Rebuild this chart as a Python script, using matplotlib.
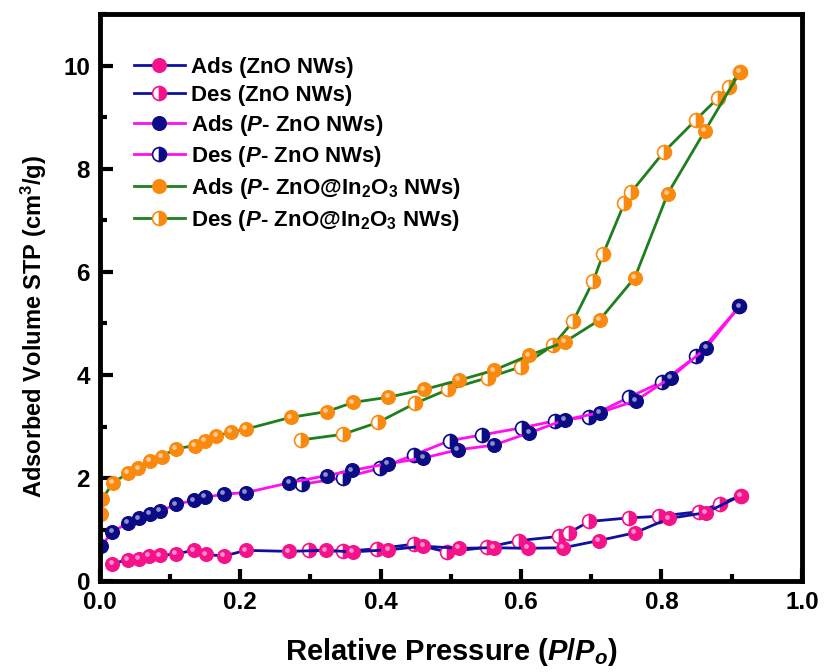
import matplotlib
matplotlib.use("Agg")
import matplotlib.pyplot as plt
from matplotlib.transforms import offset_copy
from matplotlib.ticker import MultipleLocator, FormatStrFormatter

plt.rcParams["font.family"] = ["Liberation Sans", "DejaVu Sans"]
plt.rcParams["font.weight"] = "bold"
plt.rcParams["mathtext.fontset"] = "custom"
plt.rcParams["mathtext.rm"] = "Liberation Sans:bold"
plt.rcParams["mathtext.bf"] = "Liberation Sans:bold"
plt.rcParams["mathtext.it"] = "Liberation Sans:bold:italic"

# ZnO NWs
zno_ads_x = [0.018, 0.040, 0.056, 0.070, 0.086, 0.108, 0.134, 0.151, 0.177, 0.208, 0.269,
             0.322, 0.360, 0.411, 0.461, 0.512, 0.561, 0.610, 0.660, 0.711, 0.762, 0.811,
             0.863, 0.913]
zno_ads_y = [0.34, 0.42, 0.44, 0.49, 0.50, 0.53, 0.60, 0.52, 0.49, 0.60, 0.58,
             0.60, 0.57, 0.61, 0.68, 0.64, 0.65, 0.64, 0.65, 0.79, 0.94, 1.22,
             1.33, 1.66]
zno_des_x = [0.913, 0.883, 0.853, 0.796, 0.754, 0.697, 0.668, 0.654, 0.597, 0.552,
             0.494, 0.447, 0.395, 0.346, 0.298]
zno_des_y = [1.66, 1.50, 1.35, 1.26, 1.23, 1.16, 0.94, 0.87, 0.79, 0.66,
             0.57, 0.72, 0.63, 0.58, 0.61]

# P- ZnO NWs
pzno_ads_x = [0.002, 0.018, 0.040, 0.056, 0.071, 0.086, 0.108, 0.134, 0.150, 0.177, 0.208,
              0.270, 0.323, 0.359, 0.410, 0.461, 0.510, 0.561, 0.612, 0.662, 0.712, 0.763,
              0.813, 0.864, 0.911]
pzno_ads_y = [0.68, 0.96, 1.13, 1.22, 1.31, 1.36, 1.49, 1.57, 1.63, 1.69, 1.72,
              1.91, 2.05, 2.15, 2.28, 2.39, 2.55, 2.64, 2.88, 3.13, 3.27, 3.50,
              3.95, 4.53, 5.33]
pzno_des_x = [0.911, 0.849, 0.801, 0.754, 0.697, 0.648, 0.602, 0.545, 0.499, 0.447,
              0.399, 0.347, 0.288]
pzno_des_y = [5.33, 4.36, 3.87, 3.57, 3.19, 3.11, 2.98, 2.84, 2.73, 2.45,
              2.19, 2.01, 1.88]

# P- ZnO@In2O3 NWs
pin_ads_x = [0.002, 0.003, 0.019, 0.040, 0.055, 0.071, 0.088, 0.108, 0.135, 0.150, 0.166,
             0.187, 0.208, 0.272, 0.323, 0.361, 0.411, 0.462, 0.512, 0.561, 0.611, 0.662,
             0.712, 0.762, 0.809, 0.862, 0.912]
pin_ads_y = [1.31, 1.59, 1.91, 2.10, 2.19, 2.34, 2.42, 2.57, 2.63, 2.73, 2.82,
             2.89, 2.95, 3.18, 3.29, 3.47, 3.57, 3.72, 3.90, 4.09, 4.38, 4.64,
             5.07, 5.89, 7.52, 8.74, 9.88]
pin_des_x = [0.912, 0.896, 0.881, 0.849, 0.803, 0.757, 0.747, 0.717, 0.703, 0.674,
             0.646, 0.600, 0.553, 0.496, 0.449, 0.396, 0.346, 0.286]
pin_des_y = [9.88, 9.59, 9.38, 8.95, 8.32, 7.55, 7.33, 6.35, 5.83, 5.04,
             4.58, 4.16, 3.95, 3.72, 3.45, 3.08, 2.85, 2.74]

PINK = "#F5128A"
NAVY = "#0B0B85"
LBLUE = "#1010A0"
MAGENTA = "#FF10F0"
GREEN = "#1E7F1E"
ORANGE = "#FA8A0F"

fig = plt.figure(figsize=(8.25, 6.72), dpi=100)
ax = fig.add_axes([0.121, 0.135, 0.851, 0.844])

ms = 10
lw = 2.0
hi = offset_copy(ax.transData, fig=fig, x=-1.3, y=1.3, units="points")


def series(x, y, line_c, mark_c, label, half=False):
    if half:
        h, = ax.plot(x, y, "-o", color=line_c, lw=lw, ms=ms, mfc=mark_c, mec=mark_c,
                     fillstyle="right", mfcalt="white", mew=1.2, label=label)
    else:
        h, = ax.plot(x, y, "-o", color=line_c, lw=lw, ms=ms, mfc=mark_c, mec=mark_c,
                     mew=0.8, label=label)
        ax.plot(x, y, "o", ls="none", ms=3.4, mfc="white", mec="none", alpha=0.55,
                transform=hi)
    return h


h2 = series(zno_des_x, zno_des_y, LBLUE, PINK, "Des (ZnO NWs)", half=True)
h1 = series(zno_ads_x, zno_ads_y, LBLUE, PINK, "Ads (ZnO NWs)")
h4 = series(pzno_des_x, pzno_des_y, MAGENTA, NAVY, "Des ($P$- ZnO NWs)", half=True)
h3 = series(pzno_ads_x, pzno_ads_y, MAGENTA, NAVY, "Ads ($P$- ZnO NWs)")
h6 = series(pin_des_x, pin_des_y, GREEN, ORANGE, "Des ($P$- ZnO@In$_2$O$_3$ NWs)", half=True)
h5 = series(pin_ads_x, pin_ads_y, GREEN, ORANGE, "Ads ($P$- ZnO@In$_2$O$_3$ NWs)")

ax.set_xlim(0.0, 1.0)
ax.set_ylim(0, 11)
ax.xaxis.set_major_locator(MultipleLocator(0.2))
ax.xaxis.set_minor_locator(MultipleLocator(0.1))
ax.yaxis.set_major_locator(MultipleLocator(2))
ax.yaxis.set_minor_locator(MultipleLocator(1))
ax.xaxis.set_major_formatter(FormatStrFormatter("%.1f"))

for s in ax.spines.values():
    s.set_linewidth(3.5)
ax.tick_params(which="both", direction="in", top=False, right=False,
               labelsize=17.5, pad=7)
ax.tick_params(which="major", length=9, width=3)
ax.tick_params(which="minor", length=5, width=3)

ax.set_xlabel("Relative Pressure ($P/P_o$)", fontsize=21, fontweight="bold", labelpad=16)
ax.set_ylabel("Adsorbed Volume STP (cm$^3$/g)", fontsize=17, fontweight="bold")
ax.yaxis.set_label_coords(-0.073, 0.45)

leg = ax.legend(handles=[h1, h2, h3, h4, h5, h6], loc="upper left",
                bbox_to_anchor=(0.048, 0.924), frameon=False, fontsize=16,
                handlelength=2.3, handletextpad=0.3, labelspacing=0.3,
                borderaxespad=0, borderpad=0)

fig.savefig("out.png", dpi=100)
